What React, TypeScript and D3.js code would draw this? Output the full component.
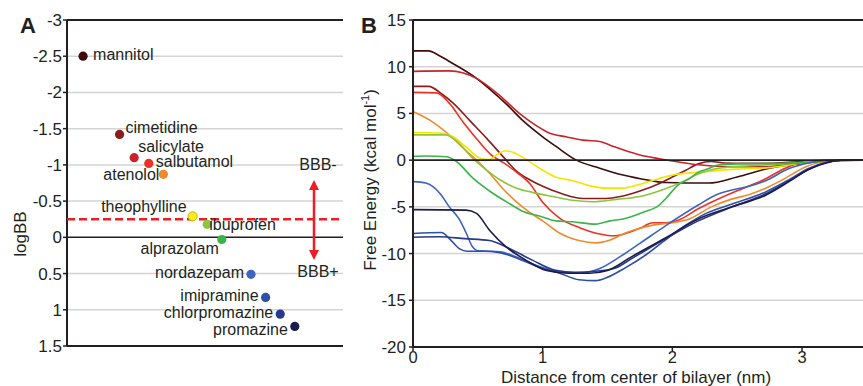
import React from 'react';
import * as d3 from 'd3';

// ---------- Panel A data ----------
const drugs = ['mannitol', 'cimetidine', 'salicylate', 'salbutamol', 'atenolol', 'theophylline', 'ibuprofen', 'alprazolam', 'nordazepam', 'imipramine', 'chlorpromazine', 'promazine'];
const logBB = [-2.5, -1.42, -1.1, -1.02, -0.87, -0.29, -0.18, 0.03, 0.51, 0.83, 1.06, 1.23];
const xOrder = [0, 2.5, 3.5, 4.5, 5.5, 7.5, 8.5, 9.5, 11.5, 12.5, 13.5, 14.5];
const drugColors = ['#3d0c0c', '#8b1c1c', '#c8242a', '#ee3124', '#f08a2c', '#fbec1a', '#8cc63e', '#3bb44a', '#3e64c0', '#2e4fa8', '#27398c', '#1c1c4c'];
const bbbThreshold = -0.25;
const yTicksA = [-3, -2.5, -2, -1.5, -1, -0.5, 0, 0.5, 1, 1.5];

// ---------- Panel B data (distance nm, free energy kcal/mol) ----------
const profileMannitol = [[0, 11.7], [0.12, 11.7], [0.2, 11.2], [0.3, 10.4], [0.49, 8.75], [0.6, 7.5], [0.72, 6.0], [0.85, 4.2], [1.0, 2.5], [1.1, 1.5], [1.26, 0], [1.44, -0.86], [1.62, -1.6], [1.82, -2.15], [1.95, -2.4], [2.1, -2.45], [2.28, -2.45], [2.5, -1.8], [2.75, -0.86], [3.0, -0.35], [3.2, -0.12], [3.4, 0], [3.5, 0]];
const profileCimetidine = [[0, 7.9], [0.12, 7.9], [0.23, 7.0], [0.31, 6.1], [0.44, 4.2], [0.57, 2.3], [0.7, 0.3], [0.8, -1.2], [0.9, -2.1], [1.0, -2.8], [1.15, -3.6], [1.31, -4.1], [1.49, -4.1], [1.6, -3.9], [1.75, -3.3], [1.9, -2.5], [2.0, -1.8], [2.1, -1.1], [2.2, -0.4], [2.3, -0.15], [2.4, -0.3], [2.55, -0.35], [2.8, -0.3], [3.1, -0.1], [3.3, 0], [3.5, 0]];
const profileSalicylate = [[0, 9.5], [0.28, 9.55], [0.49, 8.75], [0.67, 6.9], [0.82, 5.0], [0.95, 3.7], [1.05, 2.9], [1.18, 2.5], [1.31, 2.14], [1.44, 2.0], [1.52, 1.6], [1.62, 1.1], [1.75, 0.55], [1.9, 0.15], [2.05, -0.2], [2.2, -0.5], [2.46, -0.7], [2.72, -0.7], [2.97, -0.36], [3.15, -0.05], [3.5, 0]];
const profileSalbutamol = [[0, 7.25], [0.18, 7.2], [0.28, 6.1], [0.39, 4.0], [0.49, 2.3], [0.6, 0.6], [0.7, -0.3], [0.8, -1.3], [0.9, -2.5], [1.0, -4.5], [1.13, -6.2], [1.28, -7.2], [1.44, -7.9], [1.55, -8.1], [1.65, -7.8], [1.75, -7.3], [1.85, -6.7], [1.95, -6.7], [2.05, -6.4], [2.2, -5.2], [2.41, -3.8], [2.55, -3.0], [2.72, -2.0], [2.85, -1.0], [2.97, -0.3], [3.1, -0.05], [3.5, 0]];
const profileAtenolol = [[0, 5.2], [0.15, 4.1], [0.28, 2.7], [0.41, 1.0], [0.49, 0], [0.59, -1.4], [0.69, -3.0], [0.8, -4.5], [0.9, -5.6], [1.0, -6.5], [1.13, -7.8], [1.28, -8.6], [1.41, -8.85], [1.52, -8.55], [1.62, -7.9], [1.75, -7.3], [1.87, -6.9], [2.0, -6.7], [2.13, -6.3], [2.3, -5.0], [2.45, -4.2], [2.59, -3.7], [2.72, -3.0], [2.85, -2.1], [3.03, -0.7], [3.13, -0.25], [3.25, 0], [3.5, 0]];
const profileTheophylline = [[0, 2.96], [0.2, 2.9], [0.31, 2.5], [0.41, 1.4], [0.52, 0.2], [0.59, 0.07], [0.65, 0.6], [0.71, 1.0], [0.78, 0.8], [0.88, 0], [0.98, -0.9], [1.1, -1.8], [1.23, -2.2], [1.35, -2.7], [1.49, -3.0], [1.62, -3.0], [1.72, -2.7], [1.82, -2.3], [2.0, -1.6], [2.2, -1.3], [2.5, -0.96], [2.75, -0.8], [3.0, -0.3], [3.15, -0.05], [3.5, 0]];
const profileIbuprofen = [[0, 2.7], [0.25, 2.7], [0.34, 2.0], [0.46, 0.2], [0.57, -1.1], [0.67, -2.1], [0.8, -3.0], [0.92, -3.45], [1.08, -3.9], [1.23, -4.3], [1.38, -4.45], [1.57, -4.2], [1.75, -3.9], [1.92, -3.2], [2.08, -2.3], [2.18, -1.6], [2.28, -1.1], [2.4, -0.8], [2.6, -0.6], [2.8, -0.45], [3.0, -0.25], [3.2, -0.05], [3.5, 0]];
const profileAlprazolam = [[0, 0.4], [0.1, 0.45], [0.26, 0.36], [0.34, -0.2], [0.46, -1.9], [0.59, -3.3], [0.75, -4.7], [0.85, -5.5], [0.98, -6.0], [1.1, -6.5], [1.23, -6.6], [1.41, -6.85], [1.52, -6.5], [1.62, -6.3], [1.77, -5.6], [1.9, -4.8], [1.95, -4.1], [2.05, -2.6], [2.13, -2.0], [2.2, -1.3], [2.28, -0.9], [2.36, -0.5], [2.5, -0.4], [2.9, -0.35], [3.1, -0.2], [3.3, 0], [3.5, 0]];
const profileNordazepam = [[0, -2.3], [0.1, -2.45], [0.21, -3.6], [0.28, -5.0], [0.36, -6.4], [0.41, -7.8], [0.46, -9.3], [0.5, -9.7], [0.67, -9.8], [0.82, -10.5], [0.98, -11.4], [1.13, -12.0], [1.28, -12.1], [1.44, -11.6], [1.6, -10.3], [1.75, -8.9], [1.95, -7.0], [2.2, -4.8], [2.34, -3.7], [2.46, -3.2], [2.59, -2.8], [2.72, -2.2], [2.9, -0.9], [3.05, -0.3], [3.2, 0], [3.5, 0]];
const profileImipramine = [[0, -7.85], [0.22, -7.75], [0.28, -8.4], [0.36, -9.5], [0.42, -9.75], [0.55, -9.75], [0.67, -9.9], [0.82, -10.6], [0.98, -11.5], [1.13, -12.1], [1.28, -12.8], [1.41, -12.9], [1.49, -12.6], [1.64, -11.5], [1.8, -10.1], [1.95, -8.5], [2.1, -7.0], [2.26, -5.7], [2.46, -4.7], [2.72, -3.4], [2.9, -2.1], [3.05, -0.9], [3.2, -0.2], [3.3, 0], [3.5, 0]];
const profileChlorpromazine = [[0, -8.25], [0.2, -8.2], [0.4, -8.4], [0.59, -8.6], [0.72, -9.3], [0.92, -10.7], [1.1, -11.8], [1.25, -12.0], [1.4, -11.9], [1.55, -11.6], [1.69, -10.5], [1.95, -8.4], [2.2, -6.5], [2.46, -5.0], [2.72, -3.6], [2.9, -2.2], [3.05, -1.0], [3.2, -0.2], [3.3, 0], [3.5, 0]];
const profilePromazine = [[0, -5.3], [0.41, -5.35], [0.49, -5.7], [0.59, -7.5], [0.72, -9.3], [0.87, -10.7], [1.03, -11.8], [1.2, -12.1], [1.36, -12.1], [1.5, -11.8], [1.69, -10.3], [1.95, -8.3], [2.2, -6.3], [2.46, -5.0], [2.72, -3.75], [2.9, -2.3], [3.05, -1.0], [3.2, -0.25], [3.3, 0], [3.5, 0]];
const profiles = [profileMannitol, profileCimetidine, profileSalicylate, profileSalbutamol, profileAtenolol, profileTheophylline, profileIbuprofen, profileAlprazolam, profileNordazepam, profileImipramine, profileChlorpromazine, profilePromazine];
const yTicksB = [15, 10, 5, 0, -5, -10, -15, -20];
const xTicksB = [0, 1, 2, 3];

// ---------- layout (not data) ----------
const labelLayout: Record<string, { anchor: string; dx: number; dy: number }> = {
  mannitol: { anchor: 'start', dx: 10, dy: 4 },
  cimetidine: { anchor: 'start', dx: 6, dy: -1 },
  salicylate: { anchor: 'start', dx: 4, dy: -6 },
  salbutamol: { anchor: 'start', dx: 7, dy: 4 },
  atenolol: { anchor: 'end', dx: -4, dy: 6 },
  theophylline: { anchor: 'end', dx: -6, dy: -4 },
  ibuprofen: { anchor: 'start', dx: 2, dy: 6 },
  alprazolam: { anchor: 'end', dx: -3, dy: 14 },
  nordazepam: { anchor: 'end', dx: -7, dy: 4 },
  imipramine: { anchor: 'end', dx: -7, dy: 4 },
  chlorpromazine: { anchor: 'end', dx: -7, dy: 4 },
  promazine: { anchor: 'end', dx: -7, dy: 9 },
};

const FONT = '"Liberation Sans", Arial, Helvetica, sans-serif';
const GRID = '#d4d4d4';
const RED = '#ee1c24';
const INK = '#231f20';

export default function App() {
  const W = 863, H = 386;
  // Panel A
  const aL = 67, aR = 343, aT = 20, aB = 346;
  const yA = d3.scaleLinear().domain([-3, 1.5]).range([aT, aB]);
  const xA = d3.scaleLinear().domain([-1.1, 17.8]).range([aL, aR]);
  // Panel B
  const bL = 413, bR = 863, bT = 20, bB = 347;
  const yB = d3.scaleLinear().domain([15, -20]).range([bT, bB]);
  const xB = d3.scaleLinear().domain([0, 3]).range([bL, 802]);
  const line = d3.line<number[]>().x(d => xB(d[0])).y(d => yB(d[1])).curve(d3.curveMonotoneX);

  const arrowX = 314;
  const arrowTop = 180, arrowBot = 260;

  return (
    <svg width={W} height={H} style={{ position: 'absolute', left: 0, top: 0, background: '#fff' }} fontFamily={FONT}>
      <rect x={0} y={0} width={W} height={H} fill="#fff" />
      {/* ---------- Panel A ---------- */}
      <text x={20} y={33} fontSize={22} fontWeight="bold" fill={INK}>A</text>
      {yTicksA.filter(t => t !== -3 && t !== 1.5 && t !== 0).map(t => (
        <line key={'ga' + t} x1={aL} x2={aR} y1={yA(t)} y2={yA(t)} stroke={GRID} strokeWidth={1.5} />
      ))}
      <line x1={aL} x2={aR} y1={yA(-3)} y2={yA(-3)} stroke={INK} strokeWidth={2} />
      <line x1={aL} x2={aR} y1={yA(1.5)} y2={yA(1.5)} stroke={INK} strokeWidth={2} />
      <line x1={aL} x2={aR} y1={yA(0)} y2={yA(0)} stroke={INK} strokeWidth={1.5} />
      <line x1={aL} x2={aL} y1={aT} y2={aB} stroke={INK} strokeWidth={2} />
      {yTicksA.map(t => (
        <g key={'ta' + t}>
          <line x1={aL - 4} x2={aL} y1={yA(t)} y2={yA(t)} stroke={INK} strokeWidth={1.5} />
          <text x={aL - 5} y={yA(t)} dy={6} textAnchor="end" fontSize={17} fill={INK}>{String(t)}</text>
        </g>
      ))}
      <text transform="translate(26,234) rotate(-90)" textAnchor="middle" fontSize={17} fill={INK}>logBB</text>

      {/* threshold dashed line */}
      <line x1={aL} x2={aR} y1={yA(bbbThreshold)} y2={yA(bbbThreshold)} stroke={RED} strokeWidth={2.5} strokeDasharray="8,4" />

      {/* double arrow */}
      <line x1={arrowX} x2={arrowX} y1={arrowTop + 8} y2={arrowBot - 8} stroke={RED} strokeWidth={2.5} />
      <path d={`M${arrowX},${arrowTop} L${arrowX - 5},${arrowTop + 10} L${arrowX + 5},${arrowTop + 10} Z`} fill={RED} />
      <path d={`M${arrowX},${arrowBot} L${arrowX - 5},${arrowBot - 10} L${arrowX + 5},${arrowBot - 10} Z`} fill={RED} />
      <text x={318} y={170} textAnchor="middle" fontSize={16} fill={INK}>BBB-</text>
      <text x={318} y={277} textAnchor="middle" fontSize={16} fill={INK}>BBB+</text>

      {drugs.map((d, i) => {
        const cx = xA(xOrder[i]);
        const cy = yA(logBB[i]);
        const lay = labelLayout[d];
        return (
          <g key={d}>
            <circle cx={cx} cy={cy} r={4.6} fill={drugColors[i]} stroke={d === 'theophylline' ? '#b8a400' : 'none'} strokeWidth={0.8} />
            <text x={cx + lay.dx} y={cy + lay.dy} textAnchor={lay.anchor as any} fontSize={16} fill={INK}>{d}</text>
          </g>
        );
      })}

      {/* ---------- Panel B ---------- */}
      <text x={361} y={33} fontSize={22} fontWeight="bold" fill={INK}>B</text>
      {yTicksB.filter(t => t !== 15 && t !== -20 && t !== 0).map(t => (
        <line key={'gb' + t} x1={bL} x2={bR} y1={yB(t)} y2={yB(t)} stroke={GRID} strokeWidth={1.5} />
      ))}
      <line x1={bL} x2={bR} y1={yB(15)} y2={yB(15)} stroke={INK} strokeWidth={2} />
      {profiles.map((p, i) => (
        <path key={'p' + i} d={line(p) || ''} fill="none" stroke={drugColors[i] === '#fbec1a' ? '#f5e400' : drugColors[i]} strokeWidth={1.6} />
      ))}
      <line x1={bL} x2={bR} y1={yB(0)} y2={yB(0)} stroke={INK} strokeWidth={1.8} />
      <line x1={bL} x2={bR} y1={bB} y2={bB} stroke={INK} strokeWidth={2} />
      <line x1={bL} x2={bL} y1={bT} y2={bB} stroke={INK} strokeWidth={2} />
      {yTicksB.map(t => (
        <g key={'tb' + t}>
          <line x1={bL - 4} x2={bL} y1={yB(t)} y2={yB(t)} stroke={INK} strokeWidth={1.5} />
          <text x={bL - 7} y={yB(t)} dy={6} textAnchor="end" fontSize={17} fill={INK}>{String(t)}</text>
        </g>
      ))}
      {xTicksB.map(t => (
        <g key={'xb' + t}>
          <line x1={xB(t)} x2={xB(t)} y1={bB} y2={bB + 4} stroke={INK} strokeWidth={1.5} />
          <text x={xB(t)} y={363} textAnchor="middle" fontSize={16.5} fill={INK}>{String(t)}</text>
        </g>
      ))}
      <text transform="translate(376,180) rotate(-90)" textAnchor="middle" fontSize={17} fill={INK}>
        Free Energy (kcal mol<tspan fontSize={11} dy={-7}>-1</tspan><tspan dy={7}>)</tspan>
      </text>
      <text x={636} y={383} textAnchor="middle" fontSize={17} fill={INK}>Distance from center of bilayer (nm)</text>
    </svg>
  );
}
